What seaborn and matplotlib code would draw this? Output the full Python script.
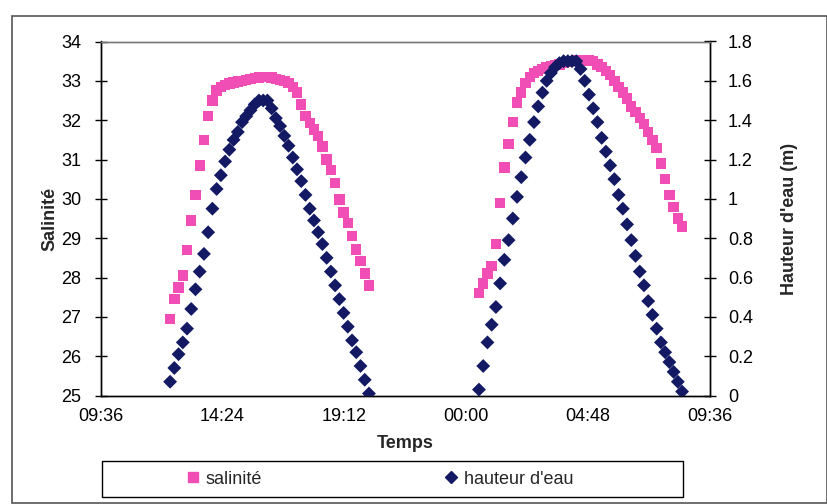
import matplotlib
matplotlib.use("Agg")
import matplotlib.pyplot as plt
import matplotlib.dates as mdates
from matplotlib.lines import Line2D
from matplotlib.patches import Rectangle
import numpy as np
import pandas as pd
import seaborn as sns

# Tide cycle 1 (afternoon), readings every 10 minutes
start_1 = "2000-01-01 12:20"
salinite_1 = [26.95, 27.45, 27.75, 28.05, 28.7, 29.45, 30.1, 30.85, 31.5, 32.1, 32.5,
              32.75, 32.85, 32.9, 32.93, 32.96, 32.98, 33.0, 33.02, 33.05, 33.07,
              33.08, 33.1, 33.1, 33.08, 33.05, 33.02, 33.0, 32.95, 32.85, 32.7,
              32.4, 32.1, 31.93, 31.76, 31.59, 31.33, 31.0, 30.74, 30.41, 29.98,
              29.65, 29.39, 29.05, 28.71, 28.42, 28.1, 27.8]
hauteur_1 = [0.07, 0.14, 0.21, 0.27, 0.34, 0.44, 0.54, 0.63, 0.72, 0.83, 0.95,
             1.05, 1.12, 1.19, 1.25, 1.30, 1.34, 1.39, 1.42, 1.45, 1.48,
             1.50, 1.50, 1.50,
             1.46, 1.41, 1.37, 1.32, 1.27, 1.21, 1.15, 1.09, 1.02, 0.95, 0.89, 0.83,
             0.77, 0.70, 0.63, 0.56, 0.49, 0.42, 0.35, 0.28, 0.22, 0.15, 0.08, 0.01]

# Tide cycle 2 (night), readings every 10 minutes
start_2 = "2000-01-02 00:30"
salinite_2 = [27.6, 27.85, 28.1, 28.3, 28.85, 29.9, 30.8, 31.4, 31.95, 32.45, 32.7,
              32.95, 33.1, 33.2, 33.25, 33.3, 33.35, 33.38, 33.4, 33.42, 33.45,
              33.48, 33.5, 33.52, 33.53, 33.53, 33.52, 33.5, 33.42, 33.35, 33.25,
              33.15, 33.0, 32.85, 32.7, 32.55, 32.35, 32.2, 32.05, 31.9, 31.7,
              31.5, 31.3, 30.9, 30.5, 30.1, 29.8, 29.5, 29.3]
hauteur_2 = [0.03, 0.15, 0.27, 0.36, 0.45, 0.57, 0.69, 0.79, 0.90, 1.01, 1.11,
             1.21, 1.30, 1.39, 1.47, 1.54, 1.60, 1.64, 1.67, 1.69,
             1.70, 1.70, 1.70, 1.70,
             1.66, 1.60, 1.53, 1.46, 1.39, 1.31, 1.24, 1.17, 1.10, 1.02, 0.95, 0.87,
             0.79, 0.71, 0.63, 0.56, 0.48, 0.41, 0.34, 0.27, 0.22, 0.17, 0.12, 0.07, 0.02]

x_ticks = ["2000-01-01 09:36", "2000-01-01 14:24", "2000-01-01 19:12",
           "2000-01-02 00:00", "2000-01-02 04:48", "2000-01-02 09:36"]
sal_ticks = list(range(25, 35))
haut_ticks = [0, 0.2, 0.4, 0.6, 0.8, 1, 1.2, 1.4, 1.6, 1.8]

PINK = "#F04EB4"
NAVY = "#131A63"
FS = 13

t1 = pd.date_range(start_1, periods=len(salinite_1), freq="10min")
t2 = pd.date_range(start_2, periods=len(salinite_2), freq="10min")
df = pd.DataFrame({
    "temps": list(t1) + list(t2),
    "salinite": salinite_1 + salinite_2,
    "hauteur": hauteur_1 + hauteur_2,
})

sns.set_theme(style="white")
plt.rcParams["font.family"] = ["Liberation Sans", "DejaVu Sans"]

fig = plt.figure(figsize=(8.28, 5.04), dpi=100)
ax = fig.add_axes([100.7 / 828, 1 - 395.5 / 504, (710 - 100.7) / 828, (395.5 - 41.5) / 504])
ax2 = ax.twinx()

sns.scatterplot(data=df, x="temps", y="salinite", ax=ax, marker="s", s=56,
                color=PINK, edgecolor="none", linewidth=0, zorder=3)
sns.scatterplot(data=df, x="temps", y="hauteur", ax=ax2, marker="D", s=50,
                color=NAVY, edgecolor="none", linewidth=0, zorder=4)

xt = pd.to_datetime(x_ticks)
ax.set_xlim(xt[0], xt[-1])
ax.set_xticks(xt)
ax.xaxis.set_major_formatter(mdates.DateFormatter("%H:%M"))
ax.set_ylim(25, 34)
ax.set_yticks(sal_ticks)
ax2.set_ylim(0, 1.8)
ax2.set_yticks(haut_ticks)
ax2.set_yticklabels([f"{v:g}" for v in haut_ticks])

ax.set_xlabel("Temps", fontsize=FS, fontweight="bold", labelpad=7)
ax.set_ylabel("Salinité", fontsize=FS, fontweight="bold", labelpad=2)
ax2.set_ylabel("Hauteur d'eau (m)", fontsize=FS, fontweight="bold", labelpad=20)

for a in (ax, ax2):
    a.tick_params(axis="both", which="major", direction="inout", length=8, width=1,
                  colors="black", labelsize=FS)
    a.grid(False)
    a.set_facecolor("none")
    for side, sp in a.spines.items():
        sp.set_color("black")
        sp.set_linewidth(1)
ax.spines["top"].set_color("#7a7a7a")
ax2.spines["top"].set_color("#7a7a7a")
ax.tick_params(axis="x", pad=5)
ax.tick_params(axis="y", pad=10)
ax2.tick_params(axis="y", pad=9)

# Legend box below the axis title
fig.patches.append(Rectangle((102 / 828, 1 - 497 / 504), (683 - 102) / 828, 36 / 504,
                             transform=fig.transFigure, fill=False,
                             edgecolor="black", linewidth=1))
handles = [
    Line2D([], [], linestyle="none", marker="s", markersize=7, color=PINK),
    Line2D([], [], linestyle="none", marker="D", markersize=6, color=NAVY),
]
fig.legend(handles, ["salinité", "hauteur d'eau"], ncol=2, frameon=False,
           loc="center left", bbox_to_anchor=(171 / 828, 1 - 479 / 504),
           fontsize=FS, handlelength=0.6, handletextpad=0.4, columnspacing=10.2)

# Outer frame around the whole chart
fig.patches.append(Rectangle((12 / 828, 1 - 503 / 504), 815 / 828, 487 / 504,
                             transform=fig.transFigure, fill=False,
                             edgecolor="#555555", linewidth=1.2))

fig.savefig("out.png", dpi=100)
